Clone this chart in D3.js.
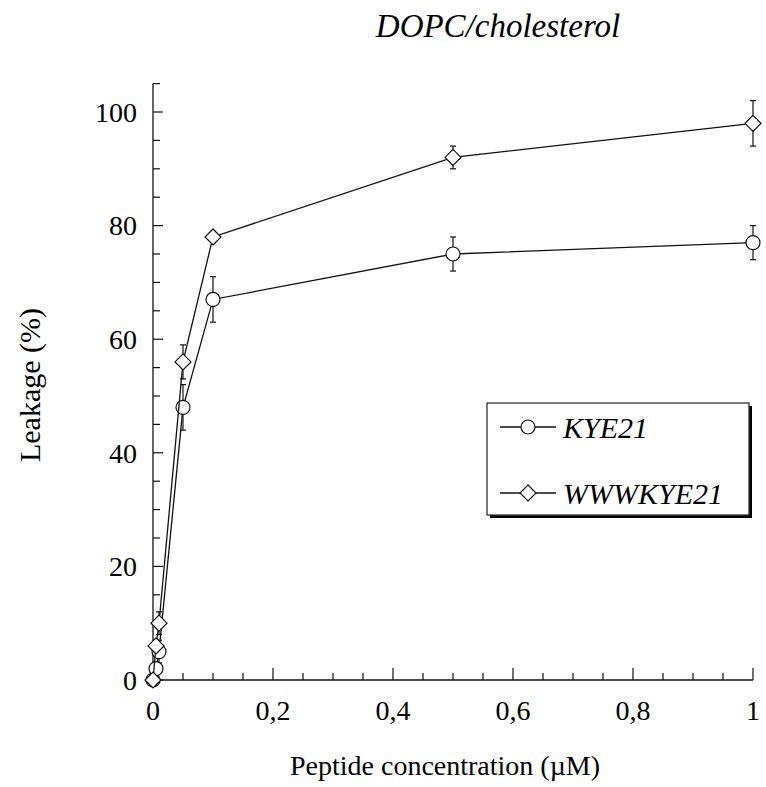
<!doctype html>
<html lang="en">
<head>
<meta charset="UTF-8">
<title>Leakage</title>
<script src="https://d3js.org/d3.v7.min.js"></script>
<style>
  body { margin: 0; background: #fff; }
  text { font-family: "Liberation Serif", "Times New Roman", serif; fill: #000; }
</style>
</head>
<body>
<div id="chart-area"></div>

<script>
const conc = [0, 0.005, 0.01, 0.05, 0.1, 0.5, 1];
const kye21 = [0, 2, 5, 48, 67, 75, 77];
const kye21Err = [0, 1, 2, 4, 4, 3, 3];
const wwwkye21 = [0, 6, 10, 56, 78, 92, 98];
const wwwkye21Err = [0, 1, 2, 3, 1, 2, 4];
const xTicks = [0, 0.2, 0.4, 0.6, 0.8, 1];
const yTicks = [0, 20, 40, 60, 80, 100];
const seriesNames = ['KYE21', 'WWWKYE21'];

const W = 766, H = 787;
const svg = d3.select('#chart-area')
    .append('svg')
    .attr('width', W)
    .attr('height', H);

const x = d3.scaleLinear().domain([0, 1]).range([153, 753]);
const y = d3.scaleLinear().domain([0, 105]).range([680, 83.6]);

const ink = '#111';

// axes
const xAxis = svg.append('g').attr('transform', `translate(0,${y(0)})`);
xAxis.append('line')
    .attr('x1', x(0)).attr('x2', x(1))
    .attr('stroke', ink).attr('stroke-width', 1.3);
xAxis.selectAll('.minor')
    .data(d3.range(0, 1.0001, 0.05))
    .join('line')
    .attr('x1', d => x(d)).attr('x2', d => x(d))
    .attr('y1', 0)
    .attr('y2', (d, i) => i % 4 === 0 ? -12 : -7)
    .attr('stroke', ink).attr('stroke-width', 1.2);
xAxis.selectAll('text')
    .data(xTicks)
    .join('text')
    .attr('x', d => x(d))
    .attr('y', 40)
    .attr('text-anchor', 'middle')
    .attr('font-size', 28)
    .text(d => d3.format('.1f')(d).replace('.', ',').replace(/^0,0$/, '0').replace(/^1,0$/, '1'));

const yAxis = svg.append('g').attr('transform', `translate(${x(0)},0)`);
yAxis.append('line')
    .attr('y1', y(0)).attr('y2', y(105))
    .attr('stroke', ink).attr('stroke-width', 1.3);
yAxis.selectAll('.minor')
    .data(d3.range(0, 105.001, 5))
    .join('line')
    .attr('y1', d => y(d)).attr('y2', d => y(d))
    .attr('x1', 0)
    .attr('x2', (d, i) => i % 4 === 0 ? 10 : 7)
    .attr('stroke', ink).attr('stroke-width', 1.2);
yAxis.selectAll('text')
    .data(yTicks)
    .join('text')
    .attr('x', -16)
    .attr('y', d => y(d))
    .attr('dy', '0.35em')
    .attr('text-anchor', 'end')
    .attr('font-size', 28)
    .text(d => d);

// titles
svg.append('text')
    .attr('x', 498).attr('y', 37)
    .attr('text-anchor', 'middle')
    .attr('font-size', 33)
    .attr('font-style', 'italic')
    .text('DOPC/cholesterol');

svg.append('text')
    .attr('x', 445).attr('y', 775)
    .attr('text-anchor', 'middle')
    .attr('font-size', 28)
    .text('Peptide concentration (µM)');

svg.append('text')
    .attr('transform', 'translate(40,385) rotate(-90)')
    .attr('text-anchor', 'middle')
    .attr('font-size', 30)
    .text('Leakage (%)');

// series
const series = [
    { name: seriesNames[0], vals: kye21, err: kye21Err, shape: 'circle' },
    { name: seriesNames[1], vals: wwwkye21, err: wwwkye21Err, shape: 'diamond' }
];

const line = d3.line().x(d => x(d[0])).y(d => y(d[1]));

function drawMarker(g, shape, cx, cy) {
    if (shape === 'circle') {
        g.append('circle')
            .attr('cx', cx).attr('cy', cy).attr('r', 7)
            .attr('fill', '#fff').attr('stroke', ink).attr('stroke-width', 1.2);
    } else {
        const s = 8;
        g.append('path')
            .attr('d', `M${cx},${cy - s}L${cx + s},${cy}L${cx},${cy + s}L${cx - s},${cy}Z`)
            .attr('fill', '#fff').attr('stroke', ink).attr('stroke-width', 1.2);
    }
}

series.forEach(s => {
    const g = svg.append('g');
    const pts = conc.map((c, i) => [c, s.vals[i], s.err[i]]);
    g.append('path')
        .datum(pts)
        .attr('d', line)
        .attr('fill', 'none')
        .attr('stroke', ink)
        .attr('stroke-width', 1.3);
    pts.forEach(p => {
        if (p[2] > 0) {
            const cx = x(p[0]);
            const t = y(p[1] + p[2]), b = y(p[1] - p[2]);
            g.append('line').attr('x1', cx).attr('x2', cx).attr('y1', t).attr('y2', b)
                .attr('stroke', ink).attr('stroke-width', 1.2);
            [t, b].forEach(v => g.append('line')
                .attr('x1', cx - 3).attr('x2', cx + 3).attr('y1', v).attr('y2', v)
                .attr('stroke', ink).attr('stroke-width', 1.2));
        }
    });
    pts.forEach(p => drawMarker(g, s.shape, x(p[0]), y(p[1])));
});

// legend
const lg = svg.append('g');
lg.append('rect')
    .attr('x', 490).attr('y', 406).attr('width', 262).attr('height', 112)
    .attr('fill', '#000');
lg.append('rect')
    .attr('x', 487).attr('y', 403).attr('width', 262).attr('height', 112)
    .attr('fill', '#fff').attr('stroke', '#333').attr('stroke-width', 1.3);
series.forEach((s, i) => {
    const ly = 427 + i * 66;
    lg.append('line')
        .attr('x1', 500).attr('x2', 556).attr('y1', ly).attr('y2', ly)
        .attr('stroke', ink).attr('stroke-width', 1.3);
    drawMarker(lg, s.shape, 528, ly);
    lg.append('text')
        .attr('x', 563).attr('y', ly + 11)
        .attr('font-size', 30)
        .attr('font-style', 'italic')
        .text(s.name);
});
</script>

</body>
</html>
